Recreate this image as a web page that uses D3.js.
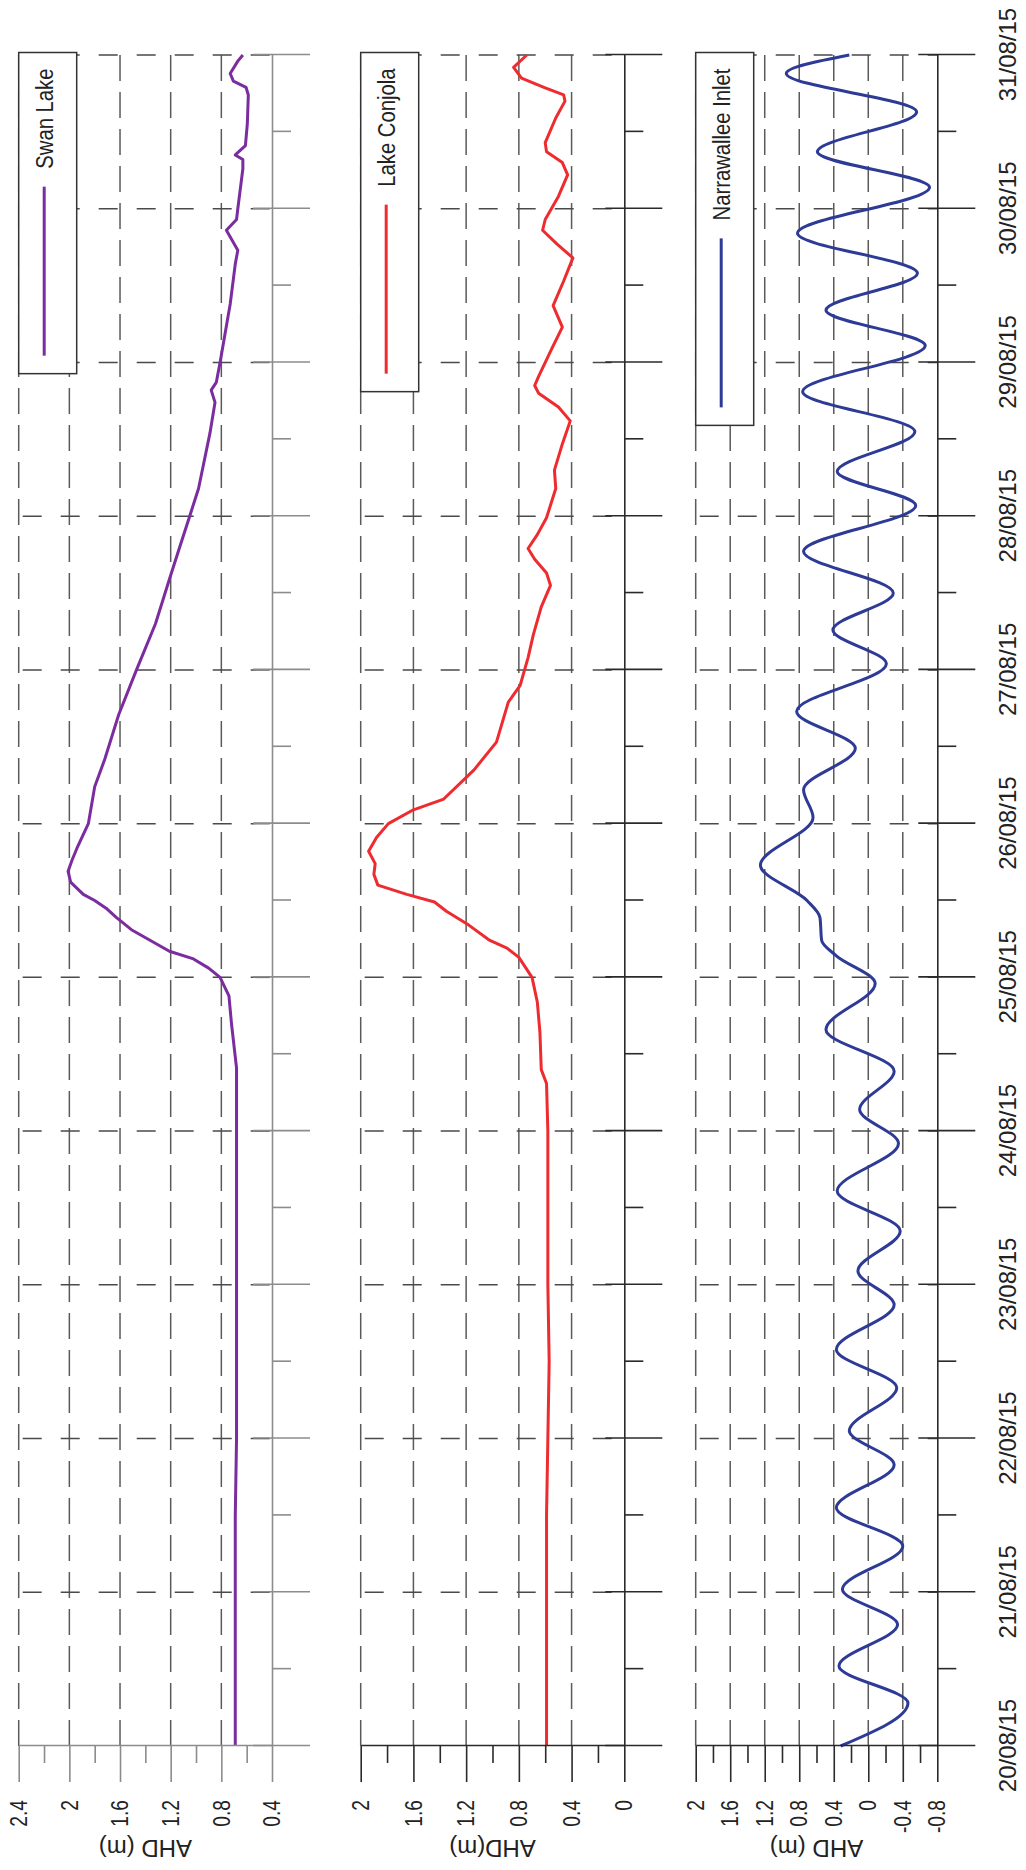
<!DOCTYPE html>
<html>
<head>
<meta charset="utf-8">
<script src="https://cdn.jsdelivr.net/npm/d3@7"></script>
<style>
  html, body { margin: 0; padding: 0; background: #fff; }
  svg { display: block; }
  text { font-family: "Liberation Sans", Arial, Helvetica, sans-serif; fill: #222; }
</style>
</head>
<body>
<div id="chart"></div>
<script>
// day of August 2015 (x axis), tick labels
const days = [20, 21, 22, 23, 24, 25, 26, 27, 28, 29, 30, 31];
const dateLabels = ['20/08/15','21/08/15','22/08/15','23/08/15','24/08/15','25/08/15',
                    '26/08/15','27/08/15','28/08/15','29/08/15','30/08/15','31/08/15'];

// Swan Lake (m AHD)
const swanT = [20.0, 20.5, 21.0, 21.5, 22.0, 22.5, 23.0, 23.5, 24.0, 24.41, 24.7, 24.88, 25.0,
  25.06, 25.12, 25.17, 25.24, 25.31, 25.39, 25.45, 25.5, 25.54, 25.62, 25.69, 25.76, 25.84,
  26.0, 26.24, 26.42, 26.71, 27.0, 27.3, 27.59, 27.77, 28.0, 28.18, 28.54, 28.74, 28.82, 28.87,
  29.0, 29.38, 29.64, 29.73, 29.86, 29.93, 30.0, 30.26, 30.32, 30.35, 30.41, 30.55, 30.74,
  30.79, 30.83, 30.88, 30.96, 31.0];
const swanV = [0.69, 0.69, 0.69, 0.69, 0.68, 0.68, 0.68, 0.68, 0.68, 0.68, 0.72, 0.74, 0.81,
  0.90, 1.02, 1.21, 1.36, 1.51, 1.63, 1.71, 1.80, 1.89, 1.99, 2.01, 1.98, 1.94,
  1.85, 1.80, 1.72, 1.61, 1.47, 1.32, 1.21, 1.14, 1.05, 0.98, 0.89, 0.85, 0.88, 0.84,
  0.81, 0.73, 0.69, 0.67, 0.76, 0.68, 0.67, 0.63, 0.63, 0.69, 0.61, 0.595, 0.587,
  0.605, 0.705, 0.73, 0.67, 0.63];

// Lake Conjola (m AHD)
const conjolaT = [20.0, 20.5, 21.0, 21.5, 22.0, 22.5, 23.0, 23.5, 24.0, 24.31, 24.4, 24.64, 24.84,
  25.0, 25.13, 25.19, 25.24, 25.34, 25.43, 25.49, 25.54, 25.6, 25.67, 25.74, 25.82, 25.91, 26.0,
  26.09, 26.16, 26.35, 26.53, 26.79, 26.9, 27.08, 27.23, 27.41, 27.55, 27.63, 27.72, 27.79,
  27.88, 27.99, 28.18, 28.3, 28.47, 28.62, 28.71, 28.8, 28.85, 28.91, 29.09, 29.23, 29.31,
  29.37, 29.53, 29.68, 29.77, 29.86, 29.93, 30.08, 30.22, 30.3, 30.37, 30.43, 30.59, 30.7,
  30.74, 30.79, 30.85, 30.92, 31.0];
const conjolaV = [0.59, 0.59, 0.59, 0.59, 0.58, 0.57, 0.58, 0.58, 0.58, 0.59, 0.63, 0.64, 0.66,
  0.70, 0.80, 0.89, 1.02, 1.18, 1.35, 1.44, 1.65, 1.87, 1.90, 1.89, 1.94, 1.88, 1.79,
  1.60, 1.37, 1.14, 0.97, 0.88, 0.79, 0.73, 0.69, 0.63, 0.56, 0.59, 0.68, 0.73,
  0.66, 0.59, 0.52, 0.53, 0.47, 0.41, 0.50, 0.65, 0.68, 0.65, 0.55, 0.47, 0.51,
  0.54, 0.46, 0.39, 0.51, 0.62, 0.60, 0.50, 0.43, 0.47, 0.59, 0.60, 0.52, 0.45,
  0.46, 0.61, 0.78, 0.84, 0.74];

// Narrawallee Inlet (m AHD)
const narrT = [20.0, 20.28, 20.52, 20.79, 21.02, 21.3, 21.55, 21.83, 22.05, 22.33, 22.58, 22.87,
  23.09, 23.35, 23.61, 23.92, 24.14, 24.39, 24.66, 24.96, 25.14, 25.24, 25.39, 25.5, 25.73,
  26.04, 26.22, 26.49, 26.73, 27.04, 27.26, 27.5, 27.77, 28.07, 28.29, 28.55, 28.81, 29.11,
  29.34, 29.58, 29.84, 30.14, 30.37, 30.63, 30.88, 31.0];
const narrV = [0.32, -0.46, 0.34, -0.34, 0.30, -0.40, 0.37, -0.30, 0.22, -0.33, 0.37, -0.30,
  0.12, -0.37, 0.36, -0.35, 0.10, -0.30, 0.49, -0.08, 0.37, 0.54, 0.56, 0.71, 1.25,
  0.64, 0.75, 0.15, 0.83, -0.21, 0.41, -0.29, 0.75, -0.55, 0.36, -0.54, 0.76, -0.66,
  0.49, -0.57, 0.82, -0.71, 0.59, -0.56, 0.95, 0.22];

// value axis ticks per panel
const swanTicks = [0.4, 0.8, 1.2, 1.6, 2.0, 2.4];
const conjolaTicks = [0, 0.4, 0.8, 1.2, 1.6, 2.0];
const narrTicks = [-0.8, -0.4, 0, 0.4, 0.8, 1.2, 1.6, 2.0];

const PW = 1026, PH = 1870;          // page (rotated) size
const svg = d3.select('#chart').append('svg').attr('width', PW).attr('height', PH);
// chart is drawn landscape and turned 90deg counter-clockwise
const root = svg.append('g').attr('transform', `translate(0,${PH}) rotate(-90)`);

const x = d3.scaleLinear().domain([20, 31]).range([124, 1815]);
const halfDays = days.slice(0, -1).map(d => d + 0.5);
const fmt = d => String(+d.toFixed(1));

// squeeze text horizontally (narrow face look), keeping its anchor point
function condense(sel, k) {
  sel.each(function () {
    const el = d3.select(this);
    const L = this.getComputedTextLength();
    if (!L) return;
    const anchor = getComputedStyle(this).textAnchor;
    const x0 = +el.attr('x') || 0, w = L * k;
    const sx = anchor === 'end' ? x0 - w : anchor === 'middle' ? x0 - w / 2 : x0;
    el.attr('text-anchor', 'start').attr('x', sx)
      .attr('textLength', w).attr('lengthAdjust', 'spacingAndGlyphs');
  });
}

const panels = [
  { label: 'Swan Lake', title: 'AHD (m)', t: swanT, v: swanV, ticks: swanTicks,
    color: '#7b2c9e', top: 18.7, base: 272, axis: '#8c8c8c', dates: false, curve: d3.curveLinear },
  { label: 'Lake Conjola', title: 'AHD(m)', t: conjolaT, v: conjolaV, ticks: conjolaTicks,
    color: '#ee2b2f', top: 360.7, base: 624.3, axis: '#2a2a2a', dates: false, curve: d3.curveLinear },
  { label: 'Narrawallee Inlet', title: 'AHD (m)', t: narrT, v: narrV, ticks: narrTicks,
    color: '#2d3a96', top: 695.7, base: 937.3, axis: '#2a2a2a', dates: true, curve: d3.curveMonotoneX }
];

panels.forEach(p => {
  const y = d3.scaleLinear().domain(d3.extent(p.ticks)).range([p.base, p.top]);
  const g = root.append('g');

  // dashed value grid
  g.append('g').selectAll('line').data(p.ticks.slice(1)).join('line')
    .attr('x1', x(20)).attr('x2', x(31))
    .attr('y1', d => y(d)).attr('y2', d => y(d))
    .attr('stroke', '#5a5a5a').attr('stroke-width', 1.5).attr('stroke-dasharray', '26,11');

  // dashed day grid
  g.append('g').selectAll('line').data(days.slice(1)).join('line')
    .attr('x1', d => x(d)).attr('x2', d => x(d))
    .attr('y1', p.top).attr('y2', p.base)
    .attr('stroke', '#4a4a4a').attr('stroke-width', 1.5).attr('stroke-dasharray', '19,19')
    .attr('stroke-dashoffset', -4);

  // series
  const line = d3.line().x(d => x(d[0])).y(d => y(d[1])).curve(p.curve);
  g.append('path').datum(d3.zip(p.t, p.v))
    .attr('d', line).attr('fill', 'none')
    .attr('stroke', p.color).attr('stroke-width', 3).attr('stroke-linejoin', 'round');

  // date axis on the panel baseline
  const dAxis = g.append('g').attr('transform', `translate(0,${p.base})`)
    .call(d3.axisBottom(x).tickValues(days).tickSize(38).tickSizeOuter(0).tickPadding(24)
      .tickFormat((d, i) => p.dates ? dateLabels[i] : ''));
  dAxis.selectAll('.tick line').attr('y1', -19);
  g.append('g').attr('transform', `translate(0,${p.base})`)
    .call(d3.axisBottom(x).tickValues(halfDays).tickSize(19).tickSizeOuter(0).tickFormat(''))
    .select('.domain').remove();

  // value axis
  const minor = p.ticks.slice(0, -1).map(d => d + 0.2);
  const vAxis = g.append('g').attr('transform', `translate(${x(20)},0)`)
    .call(d3.axisLeft(y).tickValues(p.ticks).tickSize(36).tickSizeOuter(0).tickPadding(18).tickFormat(fmt));
  g.append('g').attr('transform', `translate(${x(20)},0)`)
    .call(d3.axisLeft(y).tickValues(minor).tickSize(17).tickSizeOuter(0).tickFormat(''))
    .select('.domain').remove();

  g.selectAll('.domain, .tick line').attr('stroke', p.axis).attr('stroke-width', 1.6);

  vAxis.selectAll('text').attr('font-size', 24).attr('fill', '#222').attr('font-family', null);
  condense(vAxis.selectAll('text'), 0.8);
  dAxis.selectAll('text').attr('font-size', 24).attr('fill', '#222').attr('font-family', null);

  // axis title
  g.append('text')
    .attr('transform', `translate(30,${(p.top + p.base) / 2}) rotate(-90)`)
    .attr('text-anchor', 'middle').attr('font-size', 24).text(p.title);

  // legend, flush with the top-right corner of the plot
  const right = 1817.5, lg = g.append('g');
  const lt = lg.append('text').attr('y', p.top + 34).attr('font-size', 23).text(p.label);
  const tLen = lt.node().getComputedTextLength() * 0.88;
  const tx = right - 16 - tLen;
  lt.attr('x', tx).attr('textLength', tLen).attr('lengthAdjust', 'spacingAndGlyphs');
  const x2 = tx - 18, x1 = x2 - 169;
  lg.insert('rect', 'text').attr('x', x1 - 18).attr('y', p.top)
    .attr('width', right - (x1 - 18)).attr('height', 58)
    .attr('fill', '#fff').attr('stroke', '#333').attr('stroke-width', 1.5);
  lg.append('line').attr('x1', x1).attr('x2', x2)
    .attr('y1', p.top + 25.5).attr('y2', p.top + 25.5)
    .attr('stroke', p.color).attr('stroke-width', 3);
});
</script>
</body>
</html>
